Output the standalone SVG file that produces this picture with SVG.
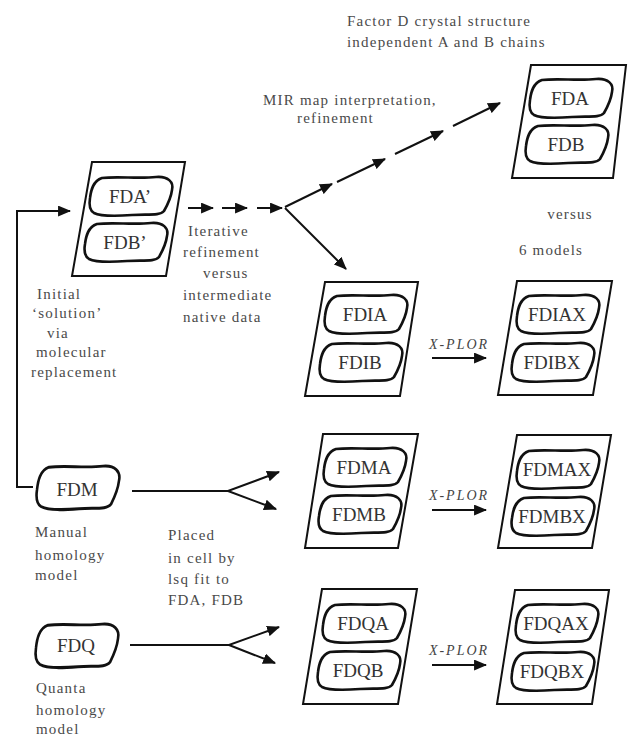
<svg xmlns="http://www.w3.org/2000/svg" width="630" height="738" viewBox="0 0 630 738">
<defs>
<style>
.box{fill:none;stroke:#111;stroke-width:2}
.blob{fill:none;stroke:#111;stroke-width:2.6;vector-effect:non-scaling-stroke}
.lbl{font-family:"Liberation Serif","Times New Roman",serif;font-size:19px;fill:#333;text-anchor:middle}
.ann{font-family:"Liberation Serif","Times New Roman",serif;font-size:15px;fill:#4a4a4a;letter-spacing:1.2px}
.mid{text-anchor:middle}
.xp{font-family:"Liberation Serif","Times New Roman",serif;font-size:14px;font-style:italic;fill:#444;letter-spacing:2px;text-anchor:middle}
.ln{fill:none;stroke:#111;stroke-width:2}
.arr{fill:none;stroke:#111;stroke-width:2;marker-end:url(#ah)}
</style>
<marker id="ah" viewBox="0 0 12 10" refX="11" refY="5" markerWidth="13" markerHeight="11" orient="auto" markerUnits="userSpaceOnUse">
<path d="M0,0 L12,5 L0,10 Z" fill="#111"/>
</marker>
<path id="bl" d="M 14,2 C 30,0 50,3 68,1 C 80,0 86,6 84,14 C 83,22 80,28 76,35 C 72,40 60,38 44,39 C 30,40 14,41 6,37 C 1,34 1,28 2,22 C 3,14 5,5 14,2 Z"/>
</defs>

<g id="connectors">
<path class="arr" d="M 33,487 L 17,487 L 17,211 L 70,211"/>
<path class="arr" d="M 188,208 L 213,208"/>
<path class="arr" d="M 222,208 L 247,208"/>
<path class="arr" d="M 257,208 L 282,208"/>
<path class="arr" d="M 285,208 L 346,269"/>
<path class="arr" d="M 285,207 L 332,184"/>
<path class="arr" d="M 337,182 L 385,159"/>
<path class="arr" d="M 395,154 L 443,131"/>
<path class="arr" d="M 453,126 L 500,103"/>
<path class="arr" d="M 132,491 L 228,491 L 279,472"/>
<path class="arr" d="M 228,491 L 276,509"/>
<path class="arr" d="M 130,645 L 229,645 L 279,627"/>
<path class="arr" d="M 229,645 L 275,663"/>
<path class="arr" d="M 432,358 L 486,358"/>
<path class="arr" d="M 432,510 L 486,510"/>
<path class="arr" d="M 432,665 L 486,665"/>
</g>

<g id="node-FD">
<polygon class="box" points="531,65 626,65 613,178 512,178"/>
<use href="#bl" x="528" y="78" class="blob"/>
<text class="lbl" x="570" y="105">FDA</text>
<use href="#bl" x="524" y="124" class="blob"/>
<text class="lbl" x="566" y="151">FDB</text>
</g>

<g id="node-FDprime">
<polygon class="box" points="92,162 185,162 166,276 72,276"/>
<use href="#bl" x="88" y="176" class="blob"/>
<text class="lbl" x="130" y="203">FDA’</text>
<use href="#bl" x="83" y="222" class="blob"/>
<text class="lbl" x="125" y="249">FDB’</text>
</g>

<g id="node-FDI">
<polygon class="box" points="325,282 418,282 400,396 305,396"/>
<use href="#bl" x="323" y="294" class="blob"/>
<text class="lbl" x="365" y="321">FDIA</text>
<use href="#bl" x="318" y="342" class="blob"/>
<text class="lbl" x="360" y="369">FDIB</text>
</g>

<g id="node-FDIX">
<polygon class="box" points="517,281 612,281 593,395 498,395"/>
<use href="#bl" x="515" y="294" class="blob"/>
<text class="lbl" x="557" y="321">FDIAX</text>
<use href="#bl" x="510" y="342" class="blob"/>
<text class="lbl" x="552" y="369">FDIBX</text>
</g>

<g id="node-FDMAB">
<polygon class="box" points="323,434 418,434 398,548 305,548"/>
<use href="#bl" x="322" y="447" class="blob"/>
<text class="lbl" x="364" y="474">FDMA</text>
<use href="#bl" x="317" y="494" class="blob"/>
<text class="lbl" x="359" y="521">FDMB</text>
</g>

<g id="node-FDMX">
<polygon class="box" points="517,435 611,435 592,548 498,548"/>
<use href="#bl" x="515" y="449" class="blob"/>
<text class="lbl" x="557" y="476">FDMAX</text>
<use href="#bl" x="510" y="496" class="blob"/>
<text class="lbl" x="552" y="523">FDMBX</text>
</g>

<g id="node-FDQAB">
<polygon class="box" points="322,589 417,589 398,704 303,704"/>
<use href="#bl" x="321" y="603" class="blob"/>
<text class="lbl" x="363" y="630">FDQA</text>
<use href="#bl" x="316" y="650" class="blob"/>
<text class="lbl" x="358" y="677">FDQB</text>
</g>

<g id="node-FDQX">
<polygon class="box" points="515,590 609,590 592,704 497,704"/>
<use href="#bl" x="514" y="603" class="blob"/>
<text class="lbl" x="556" y="630">FDQAX</text>
<use href="#bl" x="510" y="651" class="blob"/>
<text class="lbl" x="552" y="678">FDQBX</text>
</g>

<g id="node-FDM">
<use href="#bl" class="blob" transform="translate(35,465) scale(1,1.12)"/>
<text class="lbl" x="77" y="496">FDM</text>
</g>

<g id="node-FDQ">
<use href="#bl" class="blob" transform="translate(34,623) scale(1,1.12)"/>
<text class="lbl" x="76" y="652">FDQ</text>
</g>

<g id="labels">
<text class="ann" x="347" y="26">Factor D crystal structure</text>
<text class="ann" x="347" y="47">independent A and B chains</text>
<text class="ann" x="263" y="105">MIR map interpretation,</text>
<text class="ann" x="297" y="123">refinement</text>
<text class="ann mid" x="570" y="219">versus</text>
<text class="ann mid" x="551" y="255">6 models</text>
<text class="ann" x="188" y="236">Iterative</text>
<text class="ann" x="183" y="257">refinement</text>
<text class="ann" x="203" y="278">versus</text>
<text class="ann" x="183" y="300">intermediate</text>
<text class="ann" x="183" y="322">native data</text>
<text class="ann" x="37" y="299">Initial</text>
<text class="ann" x="32" y="318">‘solution’</text>
<text class="ann" x="47" y="338">via</text>
<text class="ann" x="36" y="357">molecular</text>
<text class="ann" x="31" y="377">replacement</text>
<text class="ann" x="35" y="537">Manual</text>
<text class="ann" x="35" y="560">homology</text>
<text class="ann" x="35" y="580">model</text>
<text class="ann" x="168" y="540">Placed</text>
<text class="ann" x="168" y="563">in cell by</text>
<text class="ann" x="168" y="584">lsq fit to</text>
<text class="ann" x="168" y="605">FDA, FDB</text>
<text class="ann" x="36" y="693">Quanta</text>
<text class="ann" x="36" y="715">homology</text>
<text class="ann" x="36" y="734">model</text>
<text class="xp" x="459" y="349">X-PLOR</text>
<text class="xp" x="459" y="500">X-PLOR</text>
<text class="xp" x="459" y="655">X-PLOR</text>
</g>
</svg>
